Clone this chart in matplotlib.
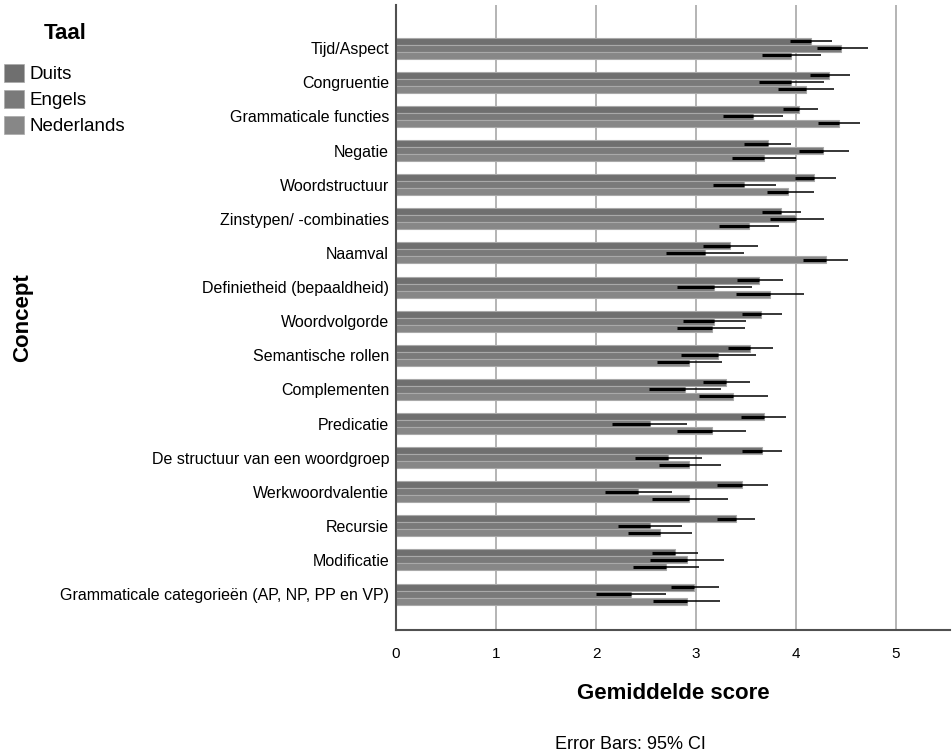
import numpy as np
import matplotlib
matplotlib.use("Agg")
import matplotlib.pyplot as plt
from matplotlib.patches import Patch

plt.rcParams['font.family'] = ['Liberation Sans', 'DejaVu Sans']

# Concepts, top to bottom
concepts = [
    "Tijd/Aspect", "Congruentie", "Grammaticale functies", "Negatie",
    "Woordstructuur", "Zinstypen/ -combinaties", "Naamval",
    "Definietheid (bepaaldheid)", "Woordvolgorde", "Semantische rollen",
    "Complementen", "Predicatie", "De structuur van een woordgroep",
    "Werkwoordvalentie", "Recursie", "Modificatie",
    "Grammaticale categorieën (AP, NP, PP en VP)",
]
talen = ["Duits", "Engels", "Nederlands"]

# mean scores
duits_mean = [4.15, 4.33, 4.03, 3.72, 4.18, 3.85, 3.34, 3.63, 3.65, 3.54, 3.30, 3.68, 3.66, 3.46, 3.40, 2.79, 2.98]
engels_mean = [4.45, 3.95, 3.57, 4.27, 3.48, 4.00, 3.09, 3.18, 3.18, 3.22, 2.89, 2.54, 2.72, 2.42, 2.54, 2.91, 2.35]
ned_mean = [3.95, 4.10, 4.43, 3.68, 3.92, 3.53, 4.30, 3.74, 3.16, 2.93, 3.37, 3.16, 2.93, 2.93, 2.64, 2.70, 2.91]

# 95% CI lower / upper
duits_lo = [3.94, 4.14, 3.87, 3.48, 3.99, 3.66, 3.07, 3.41, 3.46, 3.32, 3.07, 3.45, 3.46, 3.21, 3.21, 2.56, 2.75]
duits_hi = [4.36, 4.54, 4.22, 3.95, 4.40, 4.05, 3.62, 3.87, 3.86, 3.77, 3.54, 3.90, 3.86, 3.72, 3.59, 3.02, 3.23]
engels_lo = [4.21, 3.63, 3.27, 4.03, 3.17, 3.74, 2.70, 2.81, 2.87, 2.85, 2.53, 2.16, 2.39, 2.09, 2.22, 2.54, 2.00]
engels_hi = [4.72, 4.28, 3.87, 4.53, 3.80, 4.28, 3.48, 3.56, 3.50, 3.60, 3.25, 2.91, 3.06, 2.76, 2.86, 3.28, 2.70]
ned_lo = [3.66, 3.82, 4.22, 3.36, 3.71, 3.23, 4.07, 3.40, 2.81, 2.61, 3.03, 2.81, 2.63, 2.56, 2.32, 2.37, 2.57]
ned_hi = [4.25, 4.38, 4.64, 4.00, 4.18, 3.83, 4.52, 4.08, 3.49, 3.26, 3.72, 3.50, 3.25, 3.32, 2.96, 3.03, 3.24]

means = [duits_mean, engels_mean, ned_mean]
lows = [duits_lo, engels_lo, ned_lo]
highs = [duits_hi, engels_hi, ned_hi]
colors = ["#6f6f6f", "#7a7a7a", "#878787"]

fig = plt.figure(figsize=(9.52, 7.53), dpi=100)
ax = fig.add_axes([0.416, 0.163, 0.582, 0.830])

y = np.arange(len(concepts))
h = 0.205
for i, taal in enumerate(talen):
    pos = y + (i - 1) * h
    ax.barh(pos, means[i], height=h, color=colors[i], edgecolor="#a9a9a9",
            linewidth=0.8, label=taal, zorder=2)
    # error bar: darker part over the bar, thin part beyond
    ax.hlines(pos, lows[i], means[i], color="black", lw=2.2, zorder=3)
    ax.hlines(pos, means[i], highs[i], color="black", lw=1.1, zorder=3)

ax.set_xlim(0, 5.54)
ax.set_ylim(len(concepts) - 1 + 1.06, -1.26)
ax.set_xticks([0, 1, 2, 3, 4, 5])
ax.set_yticks(y)
ax.set_yticklabels(concepts, fontsize=11.5)
ax.tick_params(axis="x", labelsize=11, length=0, pad=12)
ax.tick_params(axis="y", length=0, pad=5)
ax.grid(axis="x", color="#b4b4b4", linewidth=1.4, zorder=0)
ax.set_axisbelow(True)

for s in ["top", "right"]:
    ax.spines[s].set_visible(False)
for s in ["left", "bottom"]:
    ax.spines[s].set_color("#505050")
    ax.spines[s].set_linewidth(1.5)

ax.set_xlabel("Gemiddelde score", fontsize=16, fontweight="bold", labelpad=16)
fig.text(0.024, 0.578, "Concept", rotation=90, fontsize=16, fontweight="bold",
         ha="center", va="center")
fig.text(0.662, 0.0, "Error Bars: 95% CI", fontsize=13, ha="center", va="bottom")

# legend with title placed separately
fig.text(0.068, 0.956, "Taal", fontsize=16, fontweight="bold", ha="center", va="center")
handles = [Patch(facecolor=c, edgecolor="#a9a9a9", linewidth=0.5) for c in colors]
leg = fig.legend(handles, talen, loc="upper left", bbox_to_anchor=(-0.004, 0.925),
                 frameon=False, fontsize=13.5,
                 handlelength=1.1, handleheight=1.1, handletextpad=0.3,
                 labelspacing=0.35, borderaxespad=0.0)

fig.savefig("out.png", dpi=100)
